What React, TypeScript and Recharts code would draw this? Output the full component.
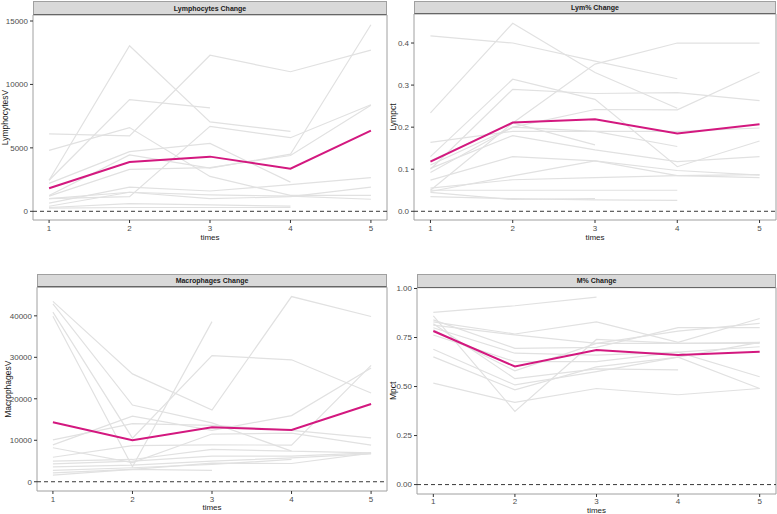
import React from 'react';
import { LineChart, Line, XAxis, YAxis, ReferenceLine, ReferenceArea } from 'recharts';

const times = [1, 2, 3, 4, 5];

const lymphocytesV: (number | null)[][] = [
  [2450, 13050, 7050, 6300, null],
  [4800, 6600, 2750, 1250, 1250],
  [6100, 5950, 12300, 11000, 12700],
  [2450, 8800, 8150, null, null],
  [2200, 4700, 5350, 2300, null],
  [1250, 4450, 3400, 4500, 14700],
  [1000, 1150, 6700, 5800, 8400],
  [1200, 3300, 3450, 4400, 8350],
  [650, 1900, 1600, 2100, 2650],
  [400, 1500, 1000, 1150, 1900],
  [300, 600, 500, 400, null],
  [250, 300, 300, 300, null],
  [1000, 1500, 1300, 1200, 950],
];
const lymphocytesMean = [1813, 3889, 4309, 3363, 6358];

const lympct: (number | null)[][] = [
  [0.417, 0.4, 0.357, 0.315, null],
  [0.234, 0.447, 0.33, 0.245, null],
  [0.05, 0.21, 0.35, 0.4, 0.4],
  [0.13, 0.314, 0.266, 0.106, 0.167],
  [0.1, 0.29, 0.28, 0.282, 0.263],
  [0.092, 0.2, 0.242, 0.241, 0.331],
  [0.164, 0.19, 0.19, 0.154, null],
  [0.102, 0.18, 0.146, 0.118, 0.13],
  [0.12, 0.21, 0.158, null, null],
  [0.074, 0.13, 0.12, 0.097, 0.086],
  [0.047, 0.084, 0.12, 0.085, 0.08],
  [0.055, 0.075, 0.08, 0.085, 0.087],
  [0.035, 0.03, 0.027, 0.026, null],
  [0.05, 0.05, 0.05, 0.05, null],
  [0.045, 0.028, 0.03, null, null],
  [0.11, 0.2, 0.19, 0.19, 0.198],
];
const lympctMean = [0.118, 0.211, 0.219, 0.185, 0.207];

const macrophagesV: (number | null)[][] = [
  [43500, 26000, 17300, 44650, 39840],
  [42900, 18500, 14200, 7400, 6970],
  [40900, 10500, 30400, 29400, 21400],
  [39900, 3600, 38600, null, null],
  [10100, 14000, 13600, 12400, 10580],
  [8900, 15800, 12400, 15950, 27410],
  [5900, 8700, 8900, 8820, 28060],
  [8200, 4600, 11500, 11700, 8820],
  [4970, 5370, 7780, 7370, null],
  [4330, 4970, 6170, 6170, 6970],
  [3600, 4000, 4970, 5770, 6730],
  [2730, 3370, 4170, 5370, null],
  [2160, 2970, 2730, null, null],
  [1600, 3000, 4500, 4400, 6900],
];
const macrophagesMean = [14350, 10020, 13150, 12500, 18760];

const mpct: (number | null)[][] = [
  [0.878, 0.912, 0.956, null, null],
  [0.86, 0.373, 0.74, 0.72, 0.725],
  [0.83, 0.768, 0.83, 0.725, 0.847],
  [0.813, 0.763, 0.72, 0.783, 0.822],
  [0.84, 0.695, 0.7, 0.8, 0.8],
  [0.8, 0.67, 0.66, 0.675, 0.55],
  [0.763, 0.627, 0.627, 0.675, 0.703],
  [0.82, 0.54, 0.59, 0.585, null],
  [0.69, 0.508, 0.576, 0.65, 0.725],
  [0.651, 0.483, 0.6, 0.65, 0.49],
  [0.517, 0.419, 0.49, 0.458, 0.49],
  [0.79, 0.58, 0.72, 0.72, 0.72],
];
const mpctMean = [0.783, 0.602, 0.686, 0.661, 0.678];

const titles = ['Lymphocytes Change', 'Lym% Change', 'Macrophages Change', 'M% Change'];
const yLabels = ['LymphocytesV', 'Lympct', 'MacrophagesV', 'Mpct'];
const yTicks = [
  [0, 5000, 10000, 15000],
  [0, 0.1, 0.2, 0.3, 0.4],
  [0, 10000, 20000, 30000, 40000],
  [0, 0.25, 0.5, 0.75, 1.0],
];

const FONT = '"Liberation Sans", Arial, Helvetica, sans-serif';
const GREY = '#e1e1e1';
const MEAN = '#d3187f';

type PanelCfg = {
  subjects: (number | null)[][];
  mean: number[];
  title: string;
  yLabel: string;
  ticks: number[];
  domain: [number, number];
  fmt: (v: number) => string;
  left: number;
  top: number;
  width: number;
  height: number;
  yAxisW: number;
  mTop: number;
  stripTop: number;
  yLabelOffset: number;
  xLabelOffset: number;
  xTickMargin: number;
};

const panels: PanelCfg[] = [
  {
    subjects: lymphocytesV, mean: lymphocytesMean, title: titles[0], yLabel: yLabels[0], ticks: yTicks[0],
    domain: [-686, 15473], fmt: (v) => String(v),
    left: 0, top: 0, width: 388, height: 250, yAxisW: 33, mTop: 15, stripTop: 1, yLabelOffset: 5, xLabelOffset: 10, xTickMargin: 2,
  },
  {
    subjects: lympct, mean: lympctMean, title: titles[1], yLabel: yLabels[1], ticks: yTicks[1],
    domain: [-0.0207, 0.469], fmt: (v) => v.toFixed(1),
    left: 388, top: 0, width: 389, height: 250, yAxisW: 26, mTop: 14, stripTop: 1, yLabelOffset: 5, xLabelOffset: 10, xTickMargin: 2,
  },
  {
    subjects: macrophagesV, mean: macrophagesMean, title: titles[2], yLabel: yLabels[2], ticks: yTicks[2],
    domain: [-2232, 46882], fmt: (v) => String(v),
    left: 0, top: 257, width: 388, height: 264, yAxisW: 37, mTop: 30.3, stripTop: 274, yLabelOffset: 8, xLabelOffset: 11, xTickMargin: 2,
  },
  {
    subjects: mpct, mean: mpctMean, title: titles[3], yLabel: yLabels[3], ticks: yTicks[3],
    domain: [-0.048, 1.004], fmt: (v) => v.toFixed(2),
    left: 388, top: 257, width: 389, height: 267, yAxisW: 29, mTop: 30.7, stripTop: 274, yLabelOffset: 5, xLabelOffset: 11, xTickMargin: 1,
  },
];

function Panel({ p }: { p: PanelCfg }) {
  const data = times.map((t, i) => {
    const row: Record<string, number | null> = { t };
    p.subjects.forEach((s, j) => {
      row['s' + j] = s[i];
    });
    row.mean = p.mean[i];
    return row;
  });
  const plotLeft = p.left + p.yAxisW;
  const plotRight = p.left + p.width - 1;
  const plotTop = p.top + p.mTop;
  return (
    <>
      <div
        style={{
          position: 'absolute',
          left: p.left,
          top: p.top,
          width: p.width,
          height: p.height,
        }}
      >
        <LineChart
          width={p.width}
          height={p.height}
          data={data}
          margin={{ top: p.mTop, right: 1, bottom: 0, left: 0 }}
          style={{ fontFamily: FONT }}
        >
          <XAxis
            type="number"
            dataKey="t"
            domain={[0.8, 5.2]}
            ticks={times}
            allowDataOverflow
            axisLine={false}
            tickLine={{ stroke: '#333333' }}
            tickSize={3}
            tickMargin={p.xTickMargin}
            height={30}
            tick={{ fontSize: 8, fill: '#4d4d4d' }}
            label={{ value: 'times', position: 'insideBottom', offset: p.xLabelOffset, fontSize: 8, fill: '#1a1a1a' }}
          />
          <YAxis
            type="number"
            domain={p.domain}
            ticks={p.ticks}
            allowDataOverflow
            axisLine={false}
            tickLine={{ stroke: '#333333' }}
            tickSize={3}
            tickMargin={2}
            width={p.yAxisW}
            tick={{ fontSize: 8, fill: '#4d4d4d' }}
            tickFormatter={p.fmt}
            label={{
              value: p.yLabel,
              angle: -90,
              position: 'insideLeft',
              offset: p.yLabelOffset,
              fontSize: 8.5,
              fill: '#1a1a1a',
              style: { textAnchor: 'middle' },
            }}
          />
          <ReferenceArea
            x1={0.8}
            x2={5.2}
            y1={p.domain[0]}
            y2={p.domain[1]}
            fill="none"
            stroke="#a0a0a0"
            strokeWidth={1}
          />
          {p.subjects.map((_, j) => (
            <Line
              key={j}
              dataKey={'s' + j}
              stroke={GREY}
              strokeWidth={1.2}
              dot={false}
              activeDot={false}
              isAnimationActive={false}
            />
          ))}
          <ReferenceLine y={0} stroke="#222222" strokeWidth={0.9} strokeDasharray="4 3" />
          <Line
            dataKey="mean"
            stroke={MEAN}
            strokeWidth={2}
            dot={false}
            activeDot={false}
            isAnimationActive={false}
          />
        </LineChart>
      </div>
      <div
        style={{
          position: 'absolute',
          left: plotLeft,
          top: p.stripTop,
          width: plotRight - plotLeft,
          height: plotTop - p.stripTop,
          boxSizing: 'border-box',
          background: '#d9d9d9',
          border: '1px solid #a0a0a0',
          borderBottom: '1px solid #666666',
          fontFamily: FONT,
          fontWeight: 'bold',
          fontSize: 7,
          color: '#1a1a1a',
          display: 'flex',
          alignItems: 'center',
          justifyContent: 'center',
          lineHeight: 1,
        }}
      >
        {p.title}
      </div>
    </>
  );
}

export default function App() {
  return (
    <div
      style={{
        position: 'absolute',
        left: 0,
        top: 0,
        width: 777,
        height: 514,
        overflow: 'hidden',
        background: '#ffffff',
      }}
    >
      {panels.map((p, i) => (
        <Panel key={i} p={p} />
      ))}
    </div>
  );
}
